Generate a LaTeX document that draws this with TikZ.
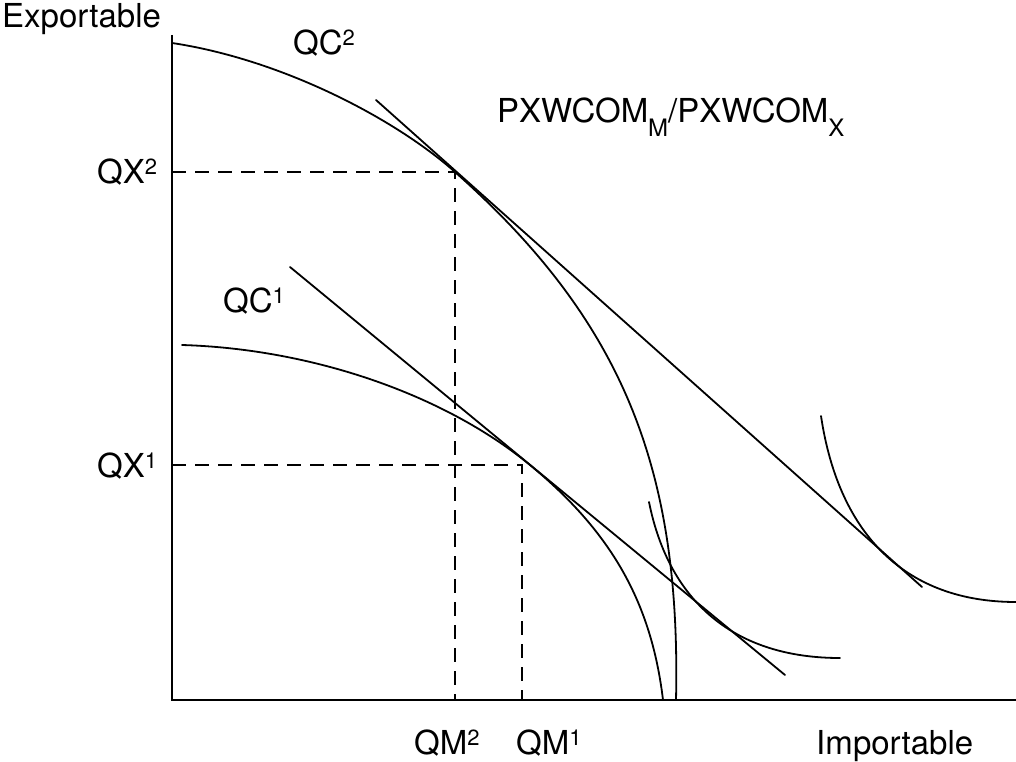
\documentclass[tikz,border=0pt]{standalone}
\usepackage{fontspec}
\setmainfont{TeX Gyre Heros}
\newcommand{\supr}[1]{\raisebox{9pt}{\fontsize{22}{22}\selectfont #1}}
\newcommand{\subr}[1]{\raisebox{-14pt}{\fontsize{24}{24}\selectfont #1}}
\begin{document}
\begin{tikzpicture}[x=1pt,y=-1pt,
  curve/.style={line width=1.8pt, line cap=round},
  axis/.style={line width=2pt},
  guide/.style={line width=1.8pt, dash pattern=on 14pt off 9pt},
  lbl/.style={font=\fontsize{33}{40}\selectfont, inner sep=0pt, anchor=base west}]
\useasboundingbox (0,0) rectangle (1016,762);
% axes
\coordinate (Ytop) at (172,35);
\coordinate (O) at (172,700);
\coordinate (Xend) at (1016,700);
\draw[axis] (Ytop) -- (O) -- (Xend);
% key points
\coordinate (S2) at (172,43);
\coordinate (T2) at (455,172);
\coordinate (E2) at (676,700);
\coordinate (S1) at (182,345);
\coordinate (T1) at (530,465);
\coordinate (E1) at (663,700);
\coordinate (P2) at (455,172);
\coordinate (P1) at (522,465);
\coordinate (QX2) at (172,172);
\coordinate (QX1) at (172,465);
\coordinate (QM2) at (455,700);
\coordinate (QM1) at (522,700);
% dashed guides
\draw[guide] (QX2) -- (P2) -- (QM2);
\draw[guide] (QX1) -- (P1) -- (QM1);
% production frontiers
\draw[curve] (S2) .. controls (282,59.5) and (395,118.7) .. (T2)
                  .. controls (624,322) and (681,470) .. (E2);
\draw[curve] (S1) .. controls (312.1,348.9) and (444.4,394.5) .. (T1)
                  .. controls (611.5,532.1) and (651.4,602.7) .. (E1);
% price lines
\coordinate (L1a) at (290,267);
\coordinate (L1b) at (785,675);
\coordinate (L2a) at (376,100);
\coordinate (L2b) at (922,587);
\draw[curve] (L1a) -- (L1b);
\draw[curve] (L2a) -- (L2b);
% indifference curves
\coordinate (I1a) at (649,502);
\coordinate (I1b) at (840,658);
\coordinate (I2a) at (821,416);
\coordinate (I2b) at (1016,602);
\draw[curve] (I1a) .. controls (669.3,603.4) and (736,658) .. (I1b);
\draw[curve] (I2a) .. controls (839.1,536.9) and (907.5,602) .. (I2b);
% labels
\node[lbl] (exp) at (2,28) {Exportable};
\node[lbl] (qc2) at (293,55) {QC\supr{2}};
\node[lbl] (ratio) at (497,123) {PXWCOM\subr{M}/PXWCOM\subr{X}};
\node[lbl] (qx2) at (97,183) {QX\supr{2}};
\node[lbl] (qc1) at (223,312) {QC\supr{1}};
\node[lbl] (qx1) at (97,477) {QX\supr{1}};
\node[lbl] (qm2) at (414,754) {QM\supr{2}};
\node[lbl] (qm1) at (516,754) {QM\supr{1}};
\node[lbl] (imp) at (816,754) {Importable};
\end{tikzpicture}
\end{document}
